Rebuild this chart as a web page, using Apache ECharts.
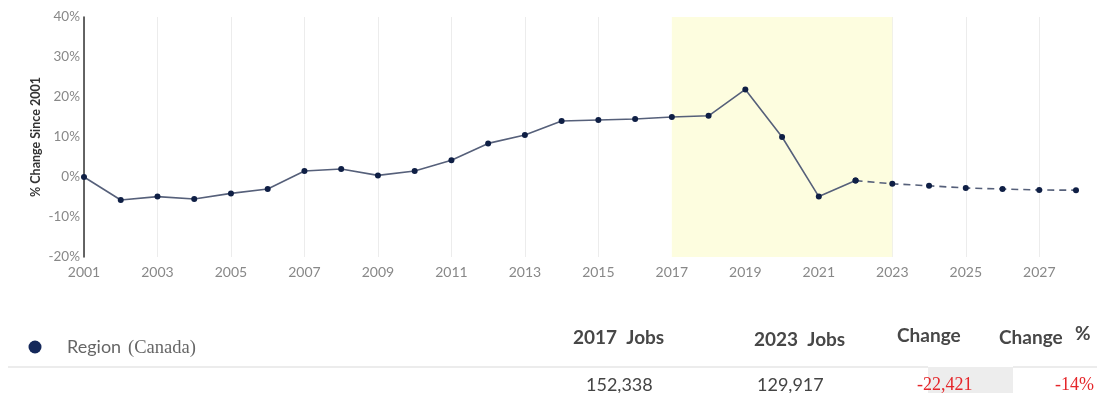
<!DOCTYPE html>
<html>
<head>
<meta charset="utf-8">
<script src="https://cdn.jsdelivr.net/npm/echarts@6/dist/echarts.min.js"></script>
<style>
  html, body { margin: 0; padding: 0; background: #fff; }
  #chart { width: 1097px; height: 393px; }
</style>
</head>
<body>
<div id="chart"></div>
<script>
// Years on the horizontal axis
const years = ['2001','2002','2003','2004','2005','2006','2007','2008','2009','2010',
  '2011','2012','2013','2014','2015','2016','2017','2018','2019','2020',
  '2021','2022','2023','2024','2025','2026','2027','2028'];

// % change since 2001, historical
const actual = [0, -5.75, -4.9, -5.5, -4.1, -3.0, 1.5, 2.0, 0.4, 1.5,
  4.2, 8.4, 10.5, 14.0, 14.25, 14.5, 15.0, 15.3, 21.9, 10.0,
  -4.9, -0.9, null, null, null, null, null, null];

// % change since 2001, projected
const projected = [null, null, null, null, null, null, null, null, null, null,
  null, null, null, null, null, null, null, null, null, null,
  null, -0.9, -1.7, -2.2, -2.75, -3.0, -3.25, -3.3];

// Highlighted period
const highlight = ['2017', '2023'];

// Y axis ticks
const yTicks = { min: -20, max: 40, step: 10 };

// Summary table
const tableHeaders = ['2017  Jobs', '2023  Jobs', 'Change', 'Change'];
const regionName = 'Region';
const regionArea = '(Canada)';
const tableValues = ['152,338', '129,917', '-22,421', '-14%'];

const chart = echarts.init(document.getElementById('chart'), null, { renderer: 'canvas' });

const lineColor = '#56607a';
const dotColor = '#0f1f45';
const headStyle = { font: 'bold 19px Lato', fill: '#474747' };
const valStyle = { font: '18px Lato', fill: '#444' };
const redStyle = { font: '18px "Liberation Serif"', fill: '#e5262a' };

chart.setOption({
  animation: false,
  grid: { left: 84, right: 21, top: 17, bottom: 136 },
  xAxis: {
    type: 'category',
    data: years,
    boundaryGap: false,
    axisLine: { show: false },
    axisTick: { show: false },
    axisLabel: { interval: 1, color: '#888', fontFamily: 'Lato', fontSize: 14, margin: 8 },
    splitLine: { show: true, interval: 1, lineStyle: { color: '#ececec', width: 1 } }
  },
  yAxis: {
    type: 'value',
    min: yTicks.min,
    max: yTicks.max,
    interval: yTicks.step,
    name: '% Change Since 2001',
    nameLocation: 'middle',
    nameRotate: 90,
    nameGap: 42,
    nameMoveOverlap: false,
    nameTextStyle: { color: '#333', fontFamily: 'Lato', fontWeight: 'bold', fontSize: 12.5 },
    axisLine: { show: true, lineStyle: { color: '#333', width: 1.5 } },
    axisTick: { show: false },
    splitLine: { show: false },
    axisLabel: { formatter: '{value}%', color: '#888', fontFamily: 'Lato', fontSize: 13.5, margin: 4 }
  },
  series: [
    {
      name: 'Historical',
      type: 'line',
      data: actual,
      symbol: 'circle',
      symbolSize: 6,
      itemStyle: { color: dotColor },
      lineStyle: { color: lineColor, width: 1.6 },
      z: 3,
      markArea: {
        silent: true,
        itemStyle: { color: '#fdfddf' },
        data: [[{ xAxis: highlight[0] }, { xAxis: highlight[1] }]]
      }
    },
    {
      name: 'Projected',
      type: 'line',
      data: projected,
      symbol: 'circle',
      symbolSize: 6,
      itemStyle: { color: dotColor },
      lineStyle: { color: lineColor, width: 1.6, type: [7, 5] },
      z: 3
    }
  ],
  graphic: [
    // legend marker and region name
    { type: 'circle', shape: { cx: 35, cy: 347, r: 6.5 }, style: { fill: '#14285a' } },
    { type: 'text', x: 67, y: 347, style: { text: regionName, font: '18px Lato', fill: '#666', verticalAlign: 'middle' } },
    { type: 'text', x: 128, y: 348, style: { text: regionArea, font: '18.5px "Liberation Serif"', fill: '#666', verticalAlign: 'middle' } },
    // headers
    { type: 'text', x: 573, y: 338, style: Object.assign({ text: tableHeaders[0], verticalAlign: 'middle' }, headStyle) },
    { type: 'text', x: 754, y: 340, style: Object.assign({ text: tableHeaders[1], verticalAlign: 'middle' }, headStyle) },
    { type: 'text', x: 897, y: 336, style: Object.assign({ text: tableHeaders[2], verticalAlign: 'middle' }, headStyle) },
    { type: 'text', x: 999, y: 338, style: Object.assign({ text: tableHeaders[3], verticalAlign: 'middle' }, headStyle) },
    { type: 'text', x: 1075, y: 334, style: Object.assign({ text: '%', verticalAlign: 'middle' }, headStyle) },
    // separator and shaded cell
    { type: 'line', shape: { x1: 8, y1: 367, x2: 928, y2: 367 }, style: { stroke: '#ececec', lineWidth: 2 } },
    { type: 'line', shape: { x1: 1013, y1: 367, x2: 1097, y2: 367 }, style: { stroke: '#ececec', lineWidth: 2 } },
    { type: 'rect', shape: { x: 928, y: 367, width: 85, height: 26 }, style: { fill: '#ededed' } },
    // values
    { type: 'text', x: 586, y: 385, style: Object.assign({ text: tableValues[0], verticalAlign: 'middle' }, valStyle) },
    { type: 'text', x: 757, y: 385, style: Object.assign({ text: tableValues[1], verticalAlign: 'middle' }, valStyle) },
    { type: 'text', x: 917, y: 385, style: Object.assign({ text: tableValues[2], verticalAlign: 'middle' }, redStyle) },
    { type: 'text', x: 1055, y: 385, style: Object.assign({ text: tableValues[3], verticalAlign: 'middle' }, redStyle) }
  ]
});
</script>
</body>
</html>
